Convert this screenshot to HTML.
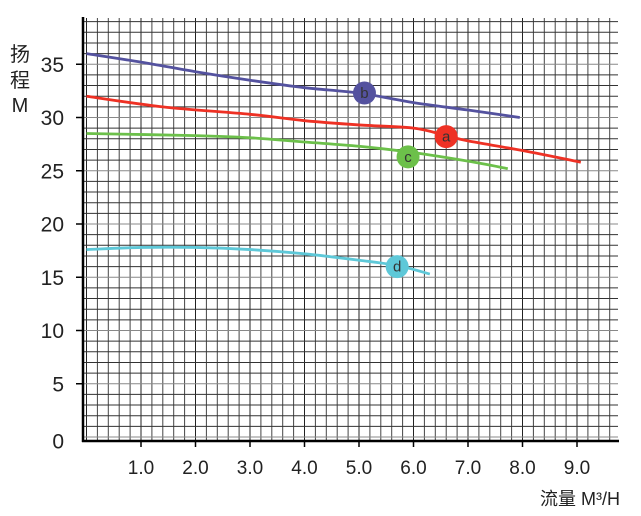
<!DOCTYPE html>
<html><head><meta charset="utf-8"><style>
html,body{margin:0;padding:0;background:#fff;}
svg{display:block;font-family:"Liberation Sans","Noto Sans CJK SC",sans-serif;}
</style></head><body>
<svg id="chart" width="641" height="516" viewBox="0 0 641 516">
<g id="grid"></g>
<g id="axes"></g>
<g id="series"></g>
<g id="labels"></g>
</svg>
<script>
const xTicks = ["1.0","2.0","3.0","4.0","5.0","6.0","7.0","8.0","9.0"];
const xTickValues = [1,2,3,4,5,6,7,8,9];
const yTicks = ["0","5","10","15","20","25","30","35"];
const yTickValues = [0,5,10,15,20,25,30,35];
const seriesNames = ["b","a","c","d"];
const seriesColors = ["#54529f","#ee3124","#6cc04a","#5ec8d8"];
const bFlow = [0,1,2,3,4,5,6,7,7.95];
const bHead = [36,35.2,34.3,33.5,32.8,32.3,31.4,30.7,30.0];
const aFlow = [0,1.4,3,4,5,6,6.6,7,8,9.07];
const aHead = [32,31,30.3,29.7,29.3,29.0,28.3,27.8,26.9,25.8];
const cFlow = [0,2,3,4,5,6,7,7.73];
const cHead = [28.5,28.3,28.1,27.7,27.3,26.7,25.9,25.2];
const dFlow = [0,1,2,3,4,5,5.7,6.3];
const dHead = [17.6,17.8,17.8,17.6,17.2,16.6,16.1,15.3];
const markerFlow = [5.1,6.6,5.9,5.7];
const markerHead = [32.3,28.2,26.3,16.0];

const NS="http://www.w3.org/2000/svg";
const X0=86.5, XS=54.5, Y0=437, YS=10.65;
function sx(v){return X0+v*XS;}
function sy(v){return Y0-v*YS;}
function mk(tag,attrs,parent){const e=document.createElementNS(NS,tag);for(const k in attrs)e.setAttribute(k,attrs[k]);parent.appendChild(e);return e;}
const grid=document.getElementById('grid'), axes=document.getElementById('axes'), ser=document.getElementById('series'), lab=document.getElementById('labels');

for(let i=0;i<=48;i++){
  const x=sx(i*0.2); if(x>618) break;
  const l=mk('line',{x1:x,y1:18,x2:x,y2:441,stroke:(i%5==0)?'#222':'#444','stroke-width':1},grid);
  
  
}
for(let j=0;j<=39;j++){
  const y=sy(j);
  const l=mk('line',{x1:83,y1:y,x2:618,y2:y,stroke:(j%5==0)?'#888':'#333','stroke-width':1},grid);
  
  
}
let ya=mk('line',{x1:83,y1:17,x2:83,y2:442,stroke:'#000','stroke-width':2.5},axes);


let xa=mk('line',{x1:82,y1:441,x2:619,y2:441,stroke:'#000','stroke-width':2.5},axes);



xTickValues.forEach((v,i)=>{
  const x=sx(v);
  const t=mk('line',{x1:x,y1:441,x2:x,y2:447,stroke:'#000','stroke-width':1.5},axes);
  
  
  const tx=mk('text',{x:x,y:474,'text-anchor':'middle','font-size':19,fill:'#222'},lab);
  tx.textContent=xTicks[i];
  
  
});
yTickValues.forEach((v,i)=>{
  const y=v===0?441:sy(v);
  if(v!==0){
    const t=mk('line',{x1:76,y1:y,x2:83,y2:y,stroke:'#000','stroke-width':1.5},axes);
    
    
  }
  const tx=mk('text',{x:64,y:y+7.5,'text-anchor':'end','font-size':21,fill:'#222'},lab);
  tx.textContent=yTicks[i];
  
  
});

const flows=[bFlow,aFlow,cFlow,dFlow], heads=[bHead,aHead,cHead,dHead];
function pathFor(xs,ys){
  const p=xs.map((v,i)=>[sx(v),sy(ys[i])]);
  let d='M'+p[0][0]+','+p[0][1];
  for(let i=0;i<p.length-1;i++){
    const p0=p[i-1]||p[i],p1=p[i],p2=p[i+1],p3=p[i+2]||p2;
    const c1=[p1[0]+(p2[0]-p0[0])/6,p1[1]+(p2[1]-p0[1])/6];
    const c2=[p2[0]-(p3[0]-p1[0])/6,p2[1]-(p3[1]-p1[1])/6];
    d+=' C'+c1[0]+','+c1[1]+' '+c2[0]+','+c2[1]+' '+p2[0]+','+p2[1];
  }
  return d;
}
seriesNames.forEach((n,i)=>{
  const p=mk('path',{d:pathFor(flows[i],heads[i]),fill:'none',stroke:seriesColors[i],'stroke-width':2.8},ser);
  
  
});
seriesNames.forEach((n,i)=>{
  const cx=sx(markerFlow[i]), cy=sy(markerHead[i]);
  const c=mk('circle',{cx:cx,cy:cy,r:11.5,fill:seriesColors[i]},ser);
  
  
  const t=mk('text',{x:cx,y:cy+5,'text-anchor':'middle','font-size':15,fill:'#333'},ser);
  t.textContent=n;
  
  
});
const ytitle=[['扬',61],['程',87],['M',112]];
ytitle.forEach(([s,y])=>{
  const t=mk('text',{x:20,y:y,'text-anchor':'middle','font-size':20,fill:'#222'},lab);
  t.textContent=s;
  
  
});
const xt=mk('text',{x:620,y:505,'text-anchor':'end','font-size':18,fill:'#222'},lab);
xt.textContent='流量 M³/H';


</script>
</body></html>
